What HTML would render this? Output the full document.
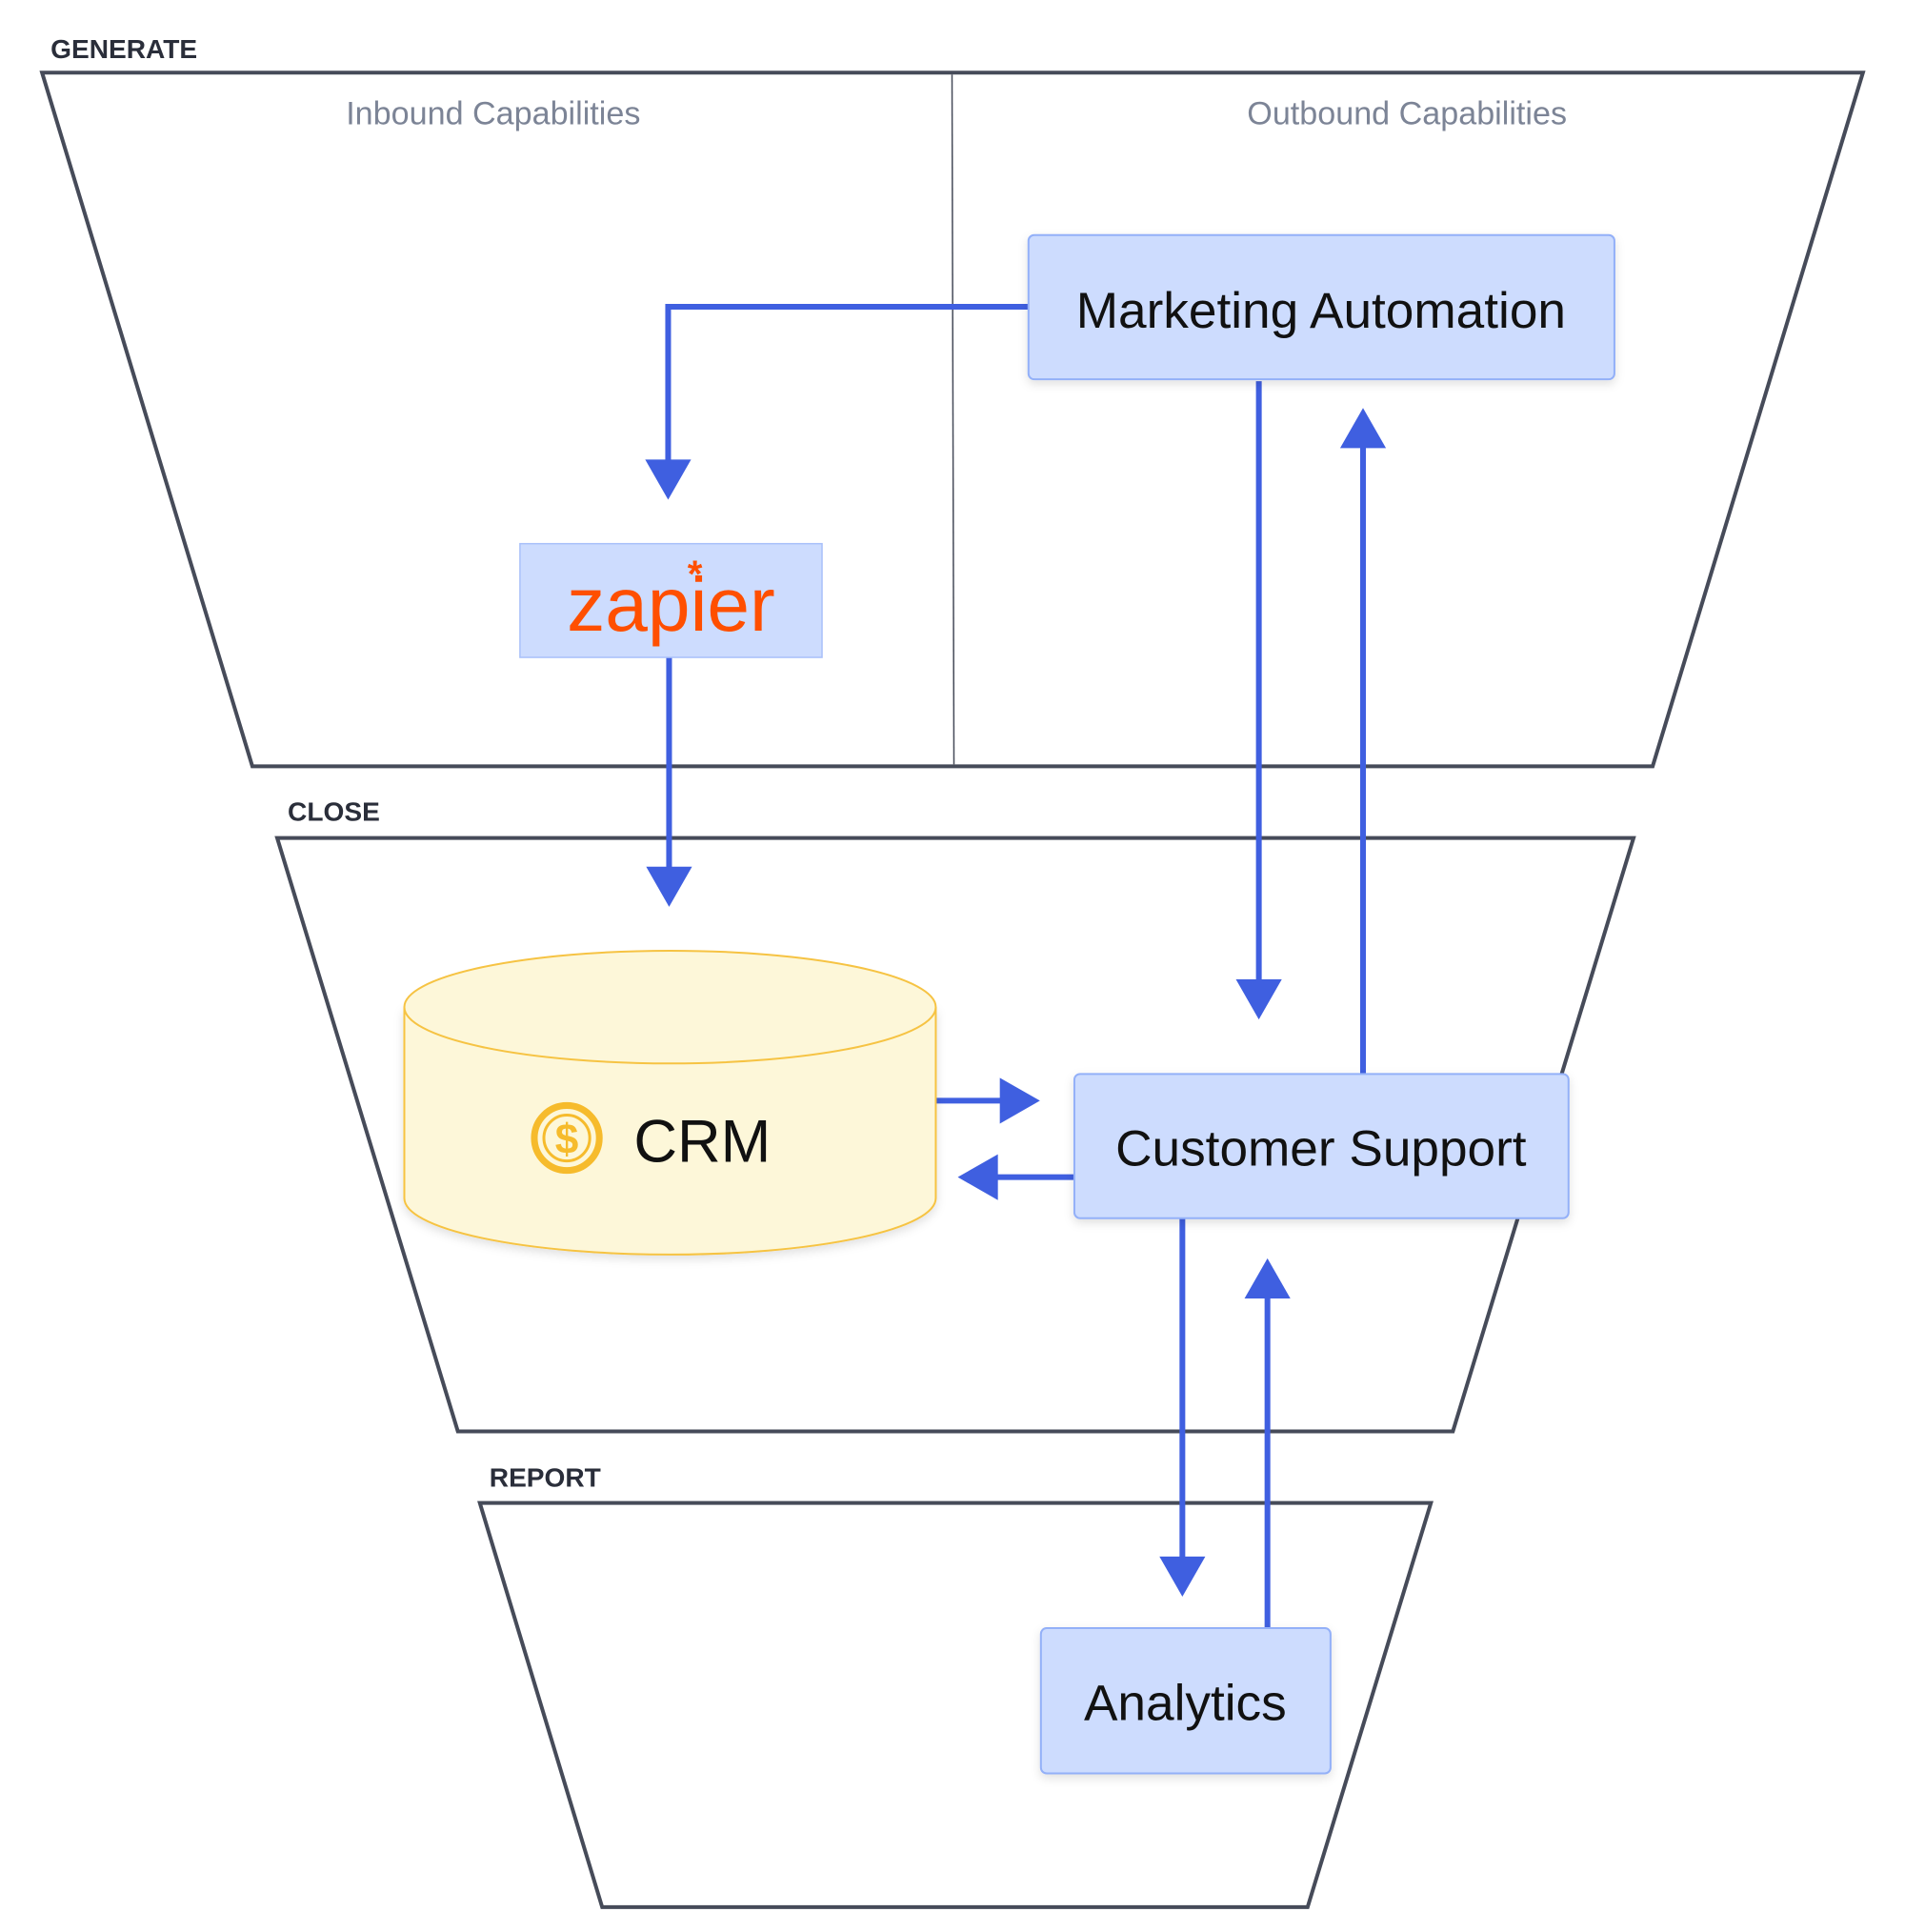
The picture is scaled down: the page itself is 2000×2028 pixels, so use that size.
<!DOCTYPE html>
<html><head><meta charset="utf-8"><style>
html,body{margin:0;padding:0;background:#fff;}
svg{display:block;}
text{font-family:"Liberation Sans",sans-serif;}
</style></head><body>
<svg width="2000" height="2028" viewBox="0 0 1993 2022" preserveAspectRatio="none" xmlns="http://www.w3.org/2000/svg">
<defs>
<filter id="sh" x="-10%" y="-10%" width="120%" height="130%"><feDropShadow dx="0" dy="4" stdDeviation="5" flood-color="#000" flood-opacity="0.12"/></filter>
</defs>
<g fill="none" stroke="#464b59" stroke-width="4">
<polygon points="44,76 1949,76 1729,802 264,802"/>
<polygon points="290,877 1709,877 1520,1498 479,1498"/>
<polygon points="502,1573 1497,1573 1368,1996 630,1996"/>
</g>
<line x1="996" y1="78" x2="998" y2="800" stroke="#464b59" stroke-width="1.5"/>
<g font-weight="bold" fill="#2a2e3a" font-size="28">
<text x="53" y="61">GENERATE</text>
<text x="301" y="859">CLOSE</text>
<text x="512" y="1556">REPORT</text>
</g>
<g fill="#7c8496" font-size="34" text-anchor="middle">
<text x="516" y="130">Inbound Capabilities</text>
<text x="1472" y="130">Outbound Capabilities</text>
</g>
<g stroke="#3f5fe0" stroke-width="6" fill="none">
<polyline points="1076,321 699,321 699,490"/>
<line x1="700" y1="688" x2="700" y2="915"/>
<line x1="1317" y1="399" x2="1317" y2="1030"/>
<line x1="1426" y1="1124" x2="1426" y2="462"/>
<line x1="979" y1="1152" x2="1050" y2="1152"/>
<line x1="1124" y1="1232" x2="1040" y2="1232"/>
<line x1="1237" y1="1275" x2="1237" y2="1635"/>
<line x1="1326" y1="1704" x2="1326" y2="1352"/>
</g>
<g fill="#3f5fe0">
<polygon points="675,481 723,481 699,523"/>
<polygon points="676,907 724,907 700,949"/>
<polygon points="1293,1025 1341,1025 1317,1067"/>
<polygon points="1402,469 1450,469 1426,427"/>
<polygon points="1046,1128 1046,1176 1088,1152"/>
<polygon points="1044,1208 1044,1256 1002,1232"/>
<polygon points="1213,1629 1261,1629 1237,1671"/>
<polygon points="1302,1359 1350,1359 1326,1317"/>
</g>
<g filter="url(#sh)">
<rect x="1076" y="246" width="613" height="151" rx="6" fill="#cddcfe" stroke="#93b0f8" stroke-width="2"/>
<rect x="1124" y="1124" width="517" height="151" rx="6" fill="#cddcfe" stroke="#93b0f8" stroke-width="2"/>
<rect x="1089" y="1704" width="303" height="152" rx="6" fill="#cddcfe" stroke="#93b0f8" stroke-width="2"/>
<path d="M423,1054 L423,1254 A278,59 0 0 0 979,1254 L979,1054" fill="#fdf7d9" stroke="#f6c343" stroke-width="2"/>
</g>
<rect x="544" y="569" width="316" height="119" fill="#cddcfe" stroke="#a9c0fa" stroke-width="1.5"/>
<ellipse cx="701" cy="1054" rx="278" ry="59" fill="#fdf7d9" stroke="#f6c343" stroke-width="2"/>
<g fill="#111" font-size="53" text-anchor="middle">
<text x="1382" y="343">Marketing Automation</text>
<text x="1382" y="1220">Customer Support</text>
<text x="1240" y="1800">Analytics</text>
</g>
<text x="663" y="1216" font-size="63" fill="#111">CRM</text>
<circle cx="593" cy="1191" r="34" fill="none" stroke="#f6bb2c" stroke-width="7"/>
<circle cx="593" cy="1191" r="24" fill="#fdf7d9" stroke="#f6bb2c" stroke-width="3"/>
<text x="593" y="1207" font-size="44" font-weight="bold" fill="#f6bb2c" text-anchor="middle">$</text>
<text x="702" y="660" font-size="80" fill="#ff4f00" text-anchor="middle">zapier</text>
<text x="727" y="614" font-size="40" font-weight="bold" fill="#ff4f00" text-anchor="middle">*</text>
</svg>
</body></html>
